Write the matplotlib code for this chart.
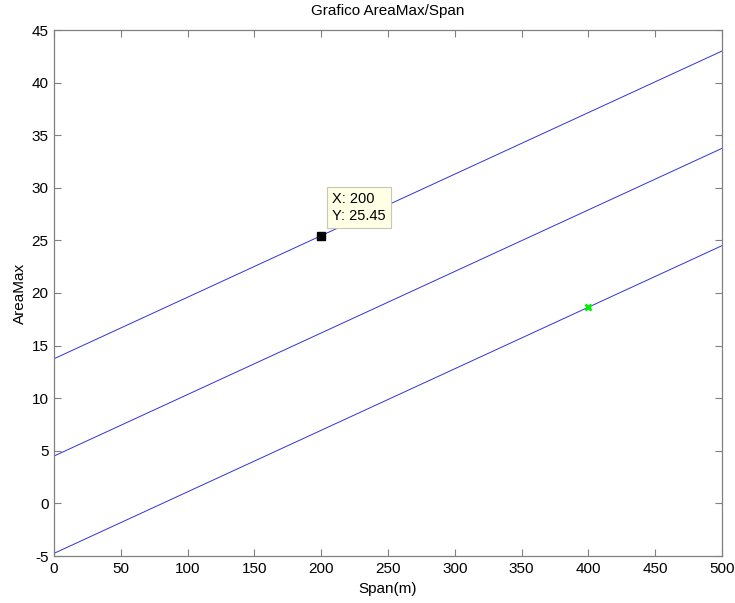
import matplotlib
matplotlib.use("Agg")
import matplotlib.pyplot as plt

plt.rcParams['font.family'] = ['Liberation Sans', 'DejaVu Sans']
plt.rcParams['axes.unicode_minus'] = False

span = [0, 500]
area_line1 = [13.75, 43.0]
area_line2 = [4.5, 33.75]
area_line3 = [-4.75, 24.5]
tip_x, tip_y = 200, 25.45
cross_x, cross_y = 400, 18.65
xticks = list(range(0, 501, 50))
yticks = list(range(-5, 46, 5))

fig = plt.figure(figsize=(7.35, 6.03), dpi=100)
ax = fig.add_axes([54/735, 47/603, (722-54)/735, (556-30)/603])

for ys in (area_line1, area_line2, area_line3):
    ax.plot(span, ys, color='#3030dd', lw=0.7)

ax.plot([tip_x], [tip_y], marker='s', color='black', ms=6, ls='none', zorder=5)
ax.plot([cross_x], [cross_y], marker='x', color='#00ee00', ms=5, mew=2, ls='none', zorder=5)

ax.annotate(f"X: {tip_x}\nY: {tip_y}", xy=(tip_x, tip_y), xytext=(8, 9),
            textcoords='offset points', fontsize=10.5, ha='left', va='bottom',
            linespacing=1.3,
            bbox=dict(boxstyle='square,pad=0.35', fc='#ffffe6', ec='#c8c8b0', lw=0.8),
            zorder=6)

ax.set_xlim(0, 500)
ax.set_ylim(-5, 45)
ax.set_xticks(xticks)
ax.set_yticks(yticks)
ax.tick_params(direction='in', top=True, right=True, length=5, width=0.8,
               color='#808080', labelsize=11, labelcolor='black', pad=4)
for s in ax.spines.values():
    s.set_color('#808080')
    s.set_linewidth(0.9)

ax.set_title("Grafico AreaMax/Span", fontsize=11, pad=11)
ax.set_xlabel("Span(m)", fontsize=11, labelpad=5)
ax.set_ylabel("AreaMax", fontsize=11, labelpad=3)

fig.savefig("out.png", dpi=100)
